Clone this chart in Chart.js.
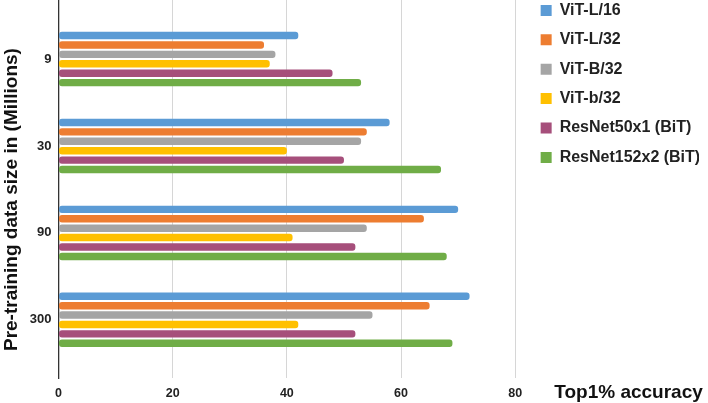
<!DOCTYPE html>
<html>
<head>
<meta charset="utf-8">
<script src="https://cdn.jsdelivr.net/npm/chart.js@4"></script>
<style>
  html, body { margin: 0; padding: 0; background: #fff; }
  #wrap { position: relative; width: 708px; height: 403px; }
</style>
</head>
<body>
<div id="wrap"><canvas id="chart"></canvas></div>
<script>
  // ── Data ──
  const categories = ["9", "30", "90", "300"];
  const seriesNames = ["ViT-L/16", "ViT-L/32", "ViT-B/32", "ViT-b/32", "ResNet50x1 (BiT)", "ResNet152x2 (BiT)"];
  const vitL16    = [42, 58, 70, 72];
  const vitL32    = [36, 54, 64, 65];
  const vitB32    = [38, 53, 54, 55];
  const vitb32    = [37, 40, 41, 42];
  const resnet50  = [48, 50, 52, 52];
  const resnet152 = [53, 67, 68, 69];
  const xTicks = [0, 20, 40, 60, 80];

  const seriesValues = [vitL16, vitL32, vitB32, vitb32, resnet50, resnet152];
  const colors = ["#5b9bd5", "#ed7d31", "#a5a5a5", "#ffc000", "#a64f7b", "#70ad47"];
  const FONT = "'Liberation Sans', Arial, Helvetica, sans-serif";

  // legend sits a bit right of / above where Chart.js puts it
  const nudgeLegend = {
    id: "nudgeLegend",
    afterLayout: function (chart) {
      const lg = chart.legend;
      lg.left += 12; lg.right += 12;
      lg.top -= 11; lg.bottom -= 11;
    }
  };

  // x axis title sits to the right of the axis, beside the tick labels
  const xTitle = {
    id: "xTitle",
    afterDraw: function (chart) {
      const ctx = chart.ctx, area = chart.chartArea;
      ctx.save();
      ctx.font = "bold 19px " + FONT;
      ctx.fillStyle = "#111";
      ctx.textBaseline = "middle";
      ctx.fillText("Top1% accuracy", area.right + 39, area.bottom + 15);
      ctx.restore();
    }
  };

  new Chart(document.getElementById("chart"), {
    type: "bar",
    data: {
      datasets: seriesNames.map(function (name, i) {
        return {
          label: name,
          data: seriesValues[i].map(function (v, j) { return { x: v, y: j }; }),
          backgroundColor: colors[i],
          borderWidth: 0,
          borderRadius: 3,
          borderSkipped: false,
          categoryPercentage: 0.65,
          barPercentage: 0.79,
        };
      }),
    },
    options: {
      indexAxis: "y",
      responsive: true,
      maintainAspectRatio: false,
      animation: false,
      layout: { padding: { left: 0, right: 21, top: 0, bottom: -6 } },
      plugins: {
        tooltip: { enabled: false },
        legend: {
          position: "right",
          align: "start",
          labels: {
            boxWidth: 11,
            boxHeight: 11,
            padding: 13.4,
            color: "#222",
            font: { family: FONT, size: 16, weight: "bold" },
          },
        },
      },
      scales: {
        x: {
          type: "linear",
          min: 0,
          max: 80,
          afterBuildTicks: function (s) { s.ticks = xTicks.map(function (v) { return { value: v }; }); },
          grid: { color: "#d6d6d6", lineWidth: 1, drawTicks: false },
          border: { display: false },
          ticks: {
            padding: 8,
            color: "#222",
            font: { family: FONT, size: 12.5, weight: "bold" },
          },
        },
        y: {
          type: "linear",
          reverse: true,
          offset: false,
          min: -0.68,
          max: 3.67,
          afterBuildTicks: function (s) { s.ticks = categories.map(function (c, i) { return { value: i }; }); },
          afterFit: function (s) { s.paddingTop = 0; s.paddingBottom = 0; },
          grid: { display: false, drawTicks: false },
          border: { display: true, color: "#333", width: 1.3 },
          ticks: {
            padding: 7,
            color: "#222",
            font: { family: FONT, size: 13, weight: "bold" },
            callback: function (v) { return categories[v]; },
          },
          title: {
            display: true,
            // trailing spaces push the rotated title a little down, as in the original
            text: "Pre-training data size in (Millions)    ",
            color: "#111",
            padding: { top: 0, bottom: 0 },
            font: { family: FONT, size: 19, weight: "bold" },
          },
        },
      },
    },
    plugins: [nudgeLegend, xTitle],
  });
</script>
</body>
</html>
